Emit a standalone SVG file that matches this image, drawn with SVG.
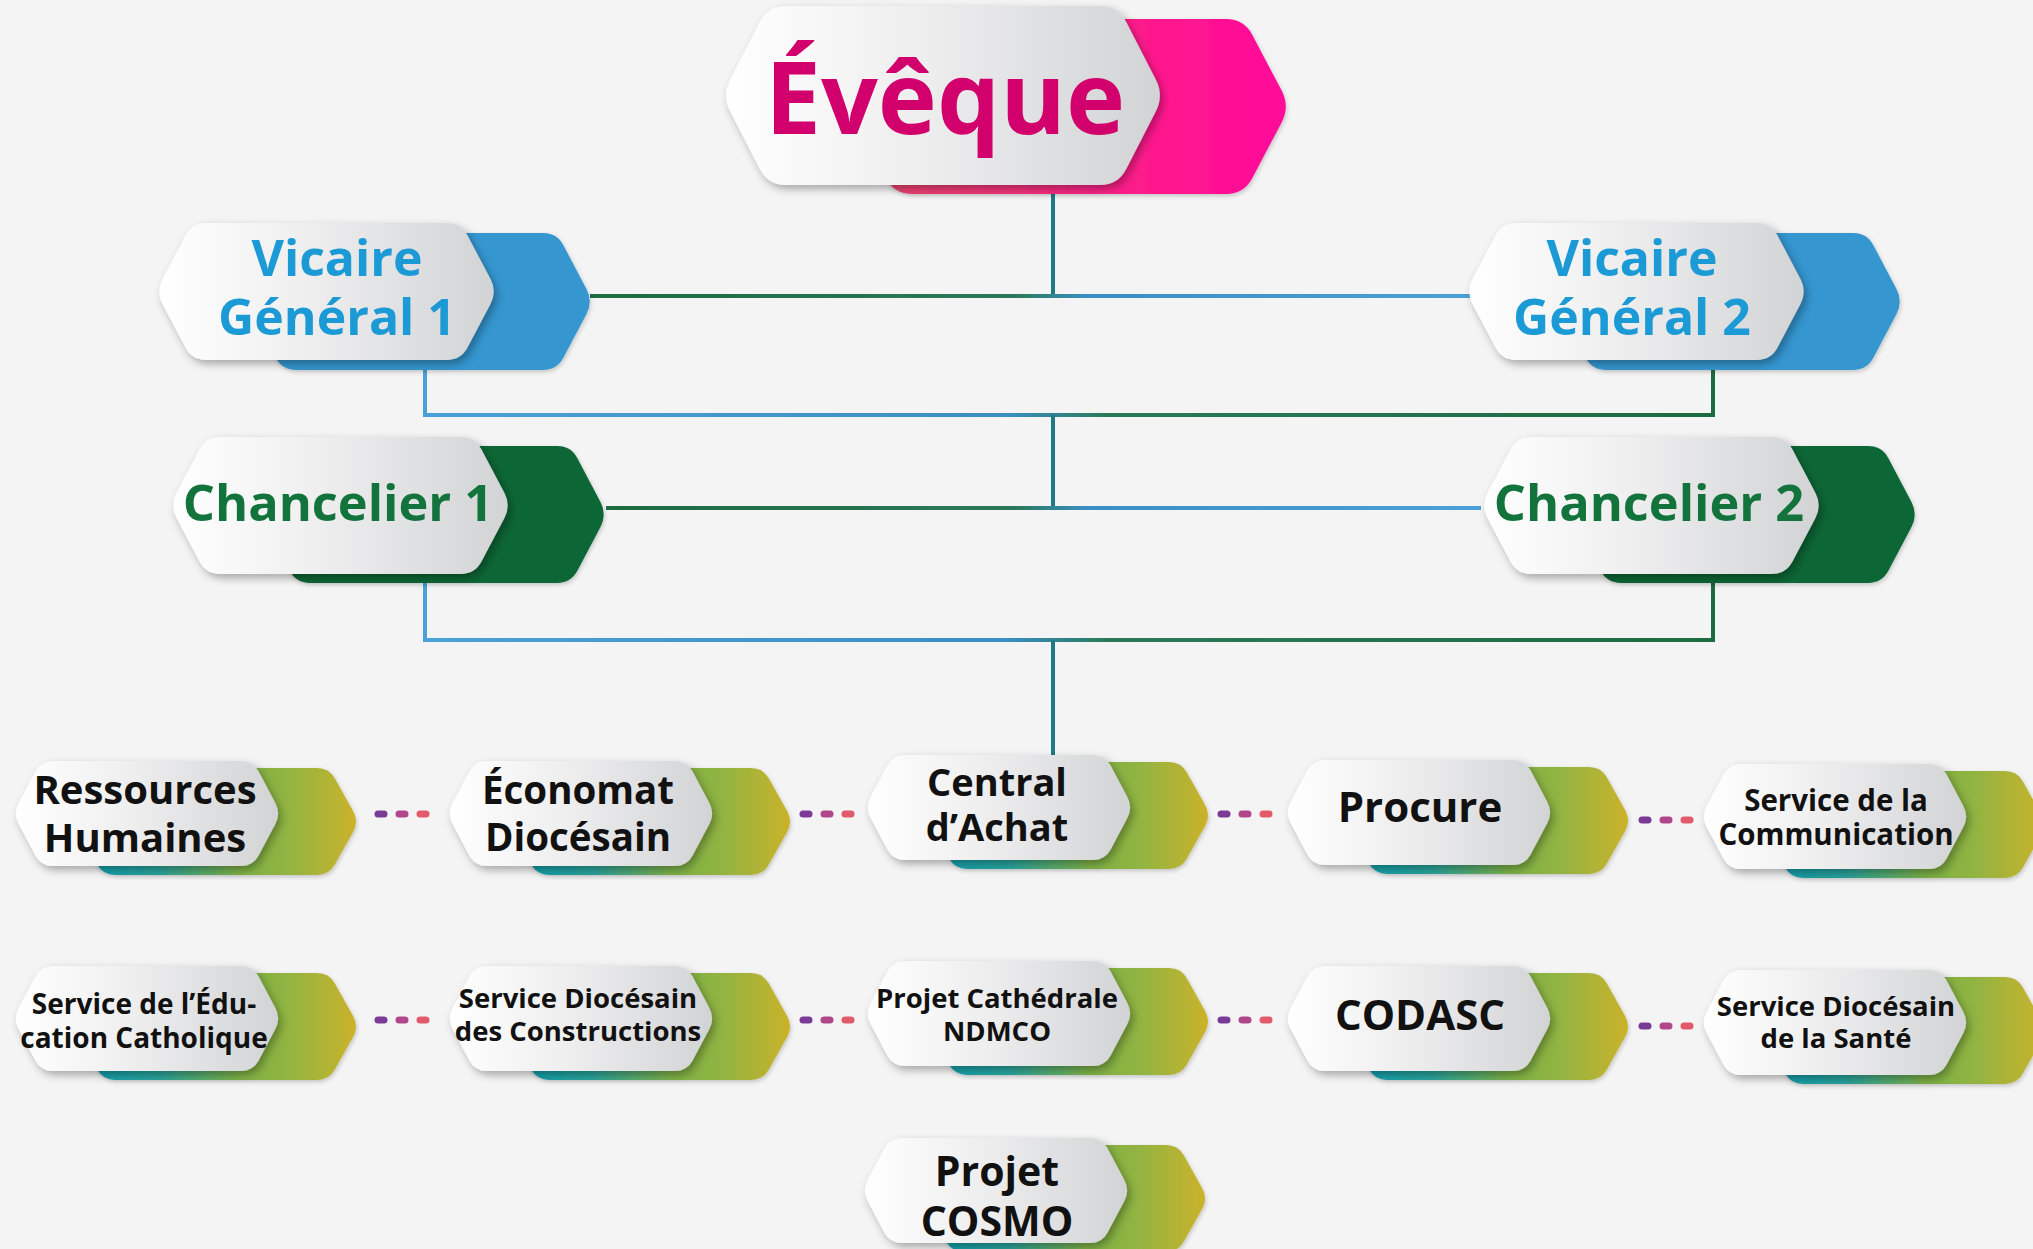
<svg xmlns="http://www.w3.org/2000/svg" xmlns:xlink="http://www.w3.org/1999/xlink" width="2033" height="1249" viewBox="0 0 2033 1249">
<style>
  .t{font-family:"Open Sans","Noto Sans",sans-serif;font-weight:700;text-anchor:middle}
  .blk{fill:#111}
  .ln{fill:none;stroke-width:4}
  .white{fill:url(#gWhite);filter:url(#sh)}
  .back{filter:url(#sh2)}
</style>
<defs>
  <filter id="sh" x="-10%" y="-15%" width="125%" height="140%">
    <feDropShadow dx="3" dy="4" stdDeviation="4" flood-color="#000" flood-opacity="0.32"/>
  </filter>
  <filter id="sh2" x="-10%" y="-15%" width="125%" height="140%">
    <feDropShadow dx="1" dy="2" stdDeviation="2" flood-color="#000" flood-opacity="0.2"/>
  </filter>
  <linearGradient id="gWhite" x1="0" y1="0" x2="1" y2="0">
    <stop offset="0" stop-color="#ffffff"/>
    <stop offset="0.45" stop-color="#eeeeef"/>
    <stop offset="1" stop-color="#d2d3d5"/>
  </linearGradient>
  <linearGradient id="gPink" x1="0" y1="0" x2="1" y2="0">
    <stop offset="0" stop-color="#e8496a"/>
    <stop offset="0.4" stop-color="#f4307c"/>
    <stop offset="0.72" stop-color="#ff168e"/>
    <stop offset="1" stop-color="#ff0a9a"/>
  </linearGradient>
  <linearGradient id="gSmall" x1="0" y1="0" x2="1" y2="0">
    <stop offset="0" stop-color="#0e9fb2"/>
    <stop offset="0.3" stop-color="#2aa39a"/>
    <stop offset="0.58" stop-color="#7db145"/>
    <stop offset="0.76" stop-color="#92b442"/>
    <stop offset="1" stop-color="#cbb22a"/>
  </linearGradient>
  <linearGradient id="gL1" gradientUnits="userSpaceOnUse" x1="590" y1="0" x2="1478" y2="0">
    <stop offset="0" stop-color="#1d6b42"/>
    <stop offset="0.48" stop-color="#2a7a5a"/>
    <stop offset="0.56" stop-color="#3a8fc4"/>
    <stop offset="1" stop-color="#4aa0d8"/>
  </linearGradient>
  <linearGradient id="gL2" gradientUnits="userSpaceOnUse" x1="425" y1="0" x2="1713" y2="0">
    <stop offset="0" stop-color="#4aa0d8"/>
    <stop offset="0.45" stop-color="#3a90c4"/>
    <stop offset="0.53" stop-color="#2a7a5a"/>
    <stop offset="1" stop-color="#1d6b42"/>
  </linearGradient>
  <path id="wS" d="M5.65,41.91 L22.35,10.59 Q28,0 40,0 L228,0 Q240,0 245.65,10.59 L262.35,41.91 Q268,52.5 262.35,63.09 L245.65,94.41 Q240,105 228,105 L40,105 Q28,105 22.35,94.41 L5.65,63.09 Q0,52.5 5.65,41.91 Z"/>
  <path id="bS" d="M5.87,43.03 L24.13,10.47 Q30,0 42,0 L244,0 Q256,0 261.87,10.47 L280.13,43.03 Q286,53.5 280.13,63.97 L261.87,96.53 Q256,107 244,107 L42,107 Q30,107 24.13,96.53 L5.87,63.97 Q0,53.5 5.87,43.03 Z"/>
  <path id="wM" d="M6.51,56.11 L29.49,12.39 Q36,0 50,0 L291,0 Q305,0 311.51,12.39 L334.49,56.11 Q341,68.5 334.49,80.89 L311.51,124.61 Q305,137 291,137 L50,137 Q36,137 29.49,124.61 L6.51,80.89 Q0,68.5 6.51,56.11 Z"/>
  <path id="bM" d="M6.51,56.11 L29.49,12.39 Q36,0 50,0 L297,0 Q311,0 317.51,12.39 L340.49,56.11 Q347,68.5 340.49,80.89 L317.51,124.61 Q311,137 297,137 L50,137 Q36,137 29.49,124.61 L6.51,80.89 Q0,68.5 6.51,56.11 Z"/>
  <path id="wL" d="M8.23,73.48 L37.77,16.02 Q46,0 64,0 L378,0 Q396,0 404.23,16.02 L433.77,73.48 Q442,89.5 433.77,105.52 L404.23,162.98 Q396,179 378,179 L64,179 Q46,179 37.77,162.98 L8.23,105.52 Q0,89.5 8.23,73.48 Z"/>
  <path id="bL" d="M8.37,71.57 L37.63,15.93 Q46,0 64,0 L378,0 Q396,0 404.37,15.93 L433.63,71.57 Q442,87.5 433.63,103.43 L404.37,159.07 Q396,175 378,175 L64,175 Q46,175 37.63,159.07 L8.37,103.43 Q0,87.5 8.37,71.57 Z"/>
  <g id="dots" stroke-width="7" stroke-linecap="round">
    <line x1="-3" y1="0" x2="3" y2="0" stroke="#7b3a96"/>
    <line x1="18" y1="0" x2="24" y2="0" stroke="#b0478a"/>
    <line x1="39" y1="0" x2="45" y2="0" stroke="#e35a6a"/>
  </g>
</defs>
<rect x="0" y="0" width="2033" height="1249" fill="#f4f4f5"/>

<g id="connectors">
  <path class="ln" stroke="#1f7a86" d="M1053,194 V296"/>
  <path class="ln" stroke="url(#gL1)" d="M590,296 H1478"/>
  <path class="ln" stroke="url(#gL2)" d="M425,368 V415 H1713 V368"/>
  <path class="ln" stroke="#1f7a86" d="M1053,415 V508"/>
  <path class="ln" stroke="url(#gL1)" d="M606,508 H1481"/>
  <path class="ln" stroke="url(#gL2)" d="M425,580 V640 H1713 V580"/>
  <path class="ln" stroke="#1f7a86" d="M1053,640 V756"/>
  <use href="#dots" x="381" y="814"/>
  <use href="#dots" x="806" y="814"/>
  <use href="#dots" x="1224" y="814"/>
  <use href="#dots" x="1645" y="820"/>
  <use href="#dots" x="381" y="1020"/>
  <use href="#dots" x="806" y="1020"/>
  <use href="#dots" x="1224" y="1020"/>
  <use href="#dots" x="1645" y="1026"/>
</g>

<g id="eveque">
  <use href="#bL" x="848" y="19" fill="url(#gPink)" class="back"/>
  <use href="#wL" x="722" y="6" class="white"/>
  <text class="t" x="945" y="134" font-size="100" fill="#d1006c">Évêque</text>
</g>

<g id="vicaire1">
  <use href="#bM" x="246" y="233" fill="#3596d0" class="back"/>
  <use href="#wM" x="156" y="223" class="white"/>
  <text class="t" x="337" y="276" font-size="50" fill="#1b9ad6">Vicaire</text>
  <text class="t" x="337" y="335" font-size="50" fill="#1b9ad6">Général 1</text>
</g>
<g id="vicaire2">
  <use href="#bM" x="1556" y="233" fill="#3596d0" class="back"/>
  <use href="#wM" x="1466" y="223" class="white"/>
  <text class="t" x="1632" y="276" font-size="50" fill="#1b9ad6">Vicaire</text>
  <text class="t" x="1632" y="335" font-size="50" fill="#1b9ad6">Général 2</text>
</g>
<g id="chancelier1">
  <use href="#bM" x="260" y="446" fill="#0c6636" class="back"/>
  <use href="#wM" x="170" y="437" class="white"/>
  <text class="t" x="338" y="521" font-size="50.5" fill="#12733c">Chancelier 1</text>
</g>
<g id="chancelier2">
  <use href="#bM" x="1571" y="446" fill="#0c6636" class="back"/>
  <use href="#wM" x="1481" y="437" class="white"/>
  <text class="t" x="1649" y="521" font-size="50.5" fill="#12733c">Chancelier 2</text>
</g>

<g id="ressources-humaines">
  <use href="#bS" x="73" y="768" fill="url(#gSmall)" class="back"/>
  <use href="#wS" x="13" y="761" class="white"/>
  <text class="t blk" x="145" y="804" font-size="40">Ressources</text>
  <text class="t blk" x="145" y="852" font-size="40">Humaines</text>
</g>
<g id="economat">
  <use href="#bS" x="507" y="768" fill="url(#gSmall)" class="back"/>
  <use href="#wS" x="447" y="761" class="white"/>
  <text class="t blk" x="578" y="804" font-size="38.5">Économat</text>
  <text class="t blk" x="578" y="851" font-size="38.5">Diocésain</text>
</g>
<g id="central-achat">
  <use href="#bS" x="925" y="762" fill="url(#gSmall)" class="back"/>
  <use href="#wS" x="865" y="755" class="white"/>
  <text class="t blk" x="997" y="796" font-size="38">Central</text>
  <text class="t blk" x="997" y="841" font-size="38">d’Achat</text>
</g>
<g id="procure">
  <use href="#bS" x="1345" y="767" fill="url(#gSmall)" class="back"/>
  <use href="#wS" x="1285" y="760" class="white"/>
  <text class="t blk" x="1420" y="822" font-size="42">Procure</text>
</g>
<g id="communication">
  <use href="#bS" x="1761" y="771" fill="url(#gSmall)" class="back"/>
  <use href="#wS" x="1701" y="764" class="white"/>
  <text class="t blk" x="1836" y="811" font-size="29.5">Service de la</text>
  <text class="t blk" x="1836" y="845" font-size="29.5">Communication</text>
</g>

<g id="education-catholique">
  <use href="#bS" x="73" y="973" fill="url(#gSmall)" class="back"/>
  <use href="#wS" x="13" y="966" class="white"/>
  <text class="t blk" x="144" y="1014" font-size="28">Service de l’Édu-</text>
  <text class="t blk" x="144" y="1048" font-size="28">cation Catholique</text>
</g>
<g id="constructions">
  <use href="#bS" x="507" y="973" fill="url(#gSmall)" class="back"/>
  <use href="#wS" x="447" y="966" class="white"/>
  <text class="t blk" x="578" y="1008" font-size="27.5">Service Diocésain</text>
  <text class="t blk" x="578" y="1041" font-size="27.5">des Constructions</text>
</g>
<g id="cathedrale">
  <use href="#bS" x="925" y="968" fill="url(#gSmall)" class="back"/>
  <use href="#wS" x="865" y="961" class="white"/>
  <text class="t blk" x="997" y="1008" font-size="27.5">Projet Cathédrale</text>
  <text class="t blk" x="997" y="1041" font-size="27.5">NDMCO</text>
</g>
<g id="codasc">
  <use href="#bS" x="1345" y="973" fill="url(#gSmall)" class="back"/>
  <use href="#wS" x="1285" y="966" class="white"/>
  <text class="t blk" x="1420" y="1030" font-size="42">CODASC</text>
</g>
<g id="sante">
  <use href="#bS" x="1761" y="977" fill="url(#gSmall)" class="back"/>
  <use href="#wS" x="1701" y="970" class="white"/>
  <text class="t blk" x="1836" y="1016" font-size="27.5">Service Diocésain</text>
  <text class="t blk" x="1836" y="1048" font-size="27.5">de la Santé</text>
</g>

<g id="cosmo">
  <use href="#bS" x="922" y="1145" fill="url(#gSmall)" class="back"/>
  <use href="#wS" x="862" y="1138" class="white"/>
  <text class="t blk" x="997" y="1186" font-size="41">Projet</text>
  <text class="t blk" x="997" y="1236" font-size="41">COSMO</text>
</g>
</svg>
